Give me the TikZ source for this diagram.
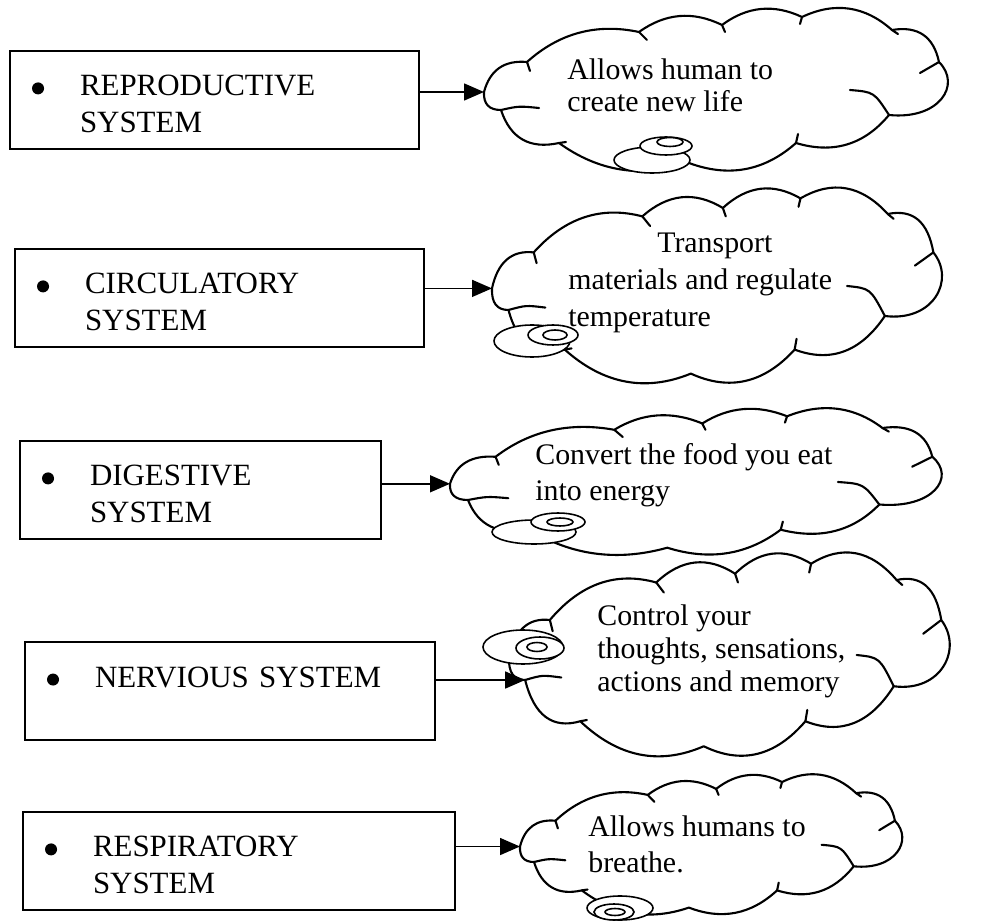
\documentclass[tikz,border=0pt]{standalone}
\usepackage{fontspec}
\setmainfont{Liberation Serif}
\usetikzlibrary{arrows.meta}

\newcommand{\sysitem}[2]{\makebox[0.96cm][l]{\raisebox{0.03cm}{\tikz\fill (0,0) circle (0.12cm);}}\rule{0pt}{0.58cm}#1\\\hspace*{0.96cm}#2}

\tikzset{
  sysbox/.style={draw, line width=1.2pt, inner xsep=0.44cm, inner ysep=0pt,
    minimum height=1.96cm, align=left, font=\fontsize{17.6}{21}\selectfont},
  says/.style={inner sep=0pt, anchor=north west, align=left},
  feeds/.style={line width=0.9pt, -{Triangle[length=0.4cm, width=0.34cm]}},
  bubble/.style={line width=1.2pt, line join=round, line cap=round},
  saucer/.style={line width=0.9pt, fill=white},
  pics/puff/.style={code={
    \draw[bubble, fill=white] (0,82)
      .. controls (5.9,60) and (20.3,50) .. (43,52)
      .. controls (75.2,23) and (112.6,13) .. (155,22)
      .. controls (181.3,3.1) and (208.9,0.7) .. (238,15)
      .. controls (263.1,-3.7) and (289.7,-6.3) .. (318,7)
      .. controls (350.9,-8.5) and (380.9,-4.1) .. (408,20)
      .. controls (433.9,15.7) and (449.5,26.3) .. (455,52)
      .. controls (478,75) and (455,110) .. (405,105)
      .. controls (380.2,134.8) and (349.2,144.2) .. (312,133)
      .. controls (280.3,161.1) and (244.7,167.7) .. (205,153)
      .. controls (158.3,168.4) and (114.9,161.8) .. (75,133)
      .. controls (45.8,139.4) and (26.4,128.4) .. (17,100)
      .. controls (5,100) and (-0.6,94) .. (0,82) -- cycle;
    % inner strokes of the puffs
    \draw[bubble] (43,52) -- (46,61);
    \draw[bubble] (155,22) -- (163,30);
    \draw[bubble] (238,15) -- (241,22);
    \draw[bubble] (318,7) -- (316,14);
    \draw[bubble] (408,20) -- (414,24);
    \draw[bubble] (455,52) -- (436,63);
    \draw[bubble] (366,80) .. controls (390,82) .. (405,105);
    \draw[bubble] (312,133) -- (314,124);
    \draw[bubble] (75,133) -- (82,132);
    \draw[bubble] (17,100) .. controls (35,96) .. (55,98);
    \coordinate (-w) at (0,82);
    \coordinate (-sw) at (17,100);
  }}
}

\begin{document}
\begin{tikzpicture}[x=0.02cm, y=-0.02cm]
    \useasboundingbox (0,0) rectangle (985,922);

    \pic (cl1) at (484,10) {puff};
    \pic[xscale=0.97, yscale=1.2] (cl2) at (492,190) {puff};
    \pic[xscale=1.06, yscale=0.9] (cl3) at (450,410) {puff};
    \pic[xscale=0.95, yscale=1.25] (cl4) at (509,555) {puff};
    \pic[xscale=0.824, yscale=0.86] (cl5) at (520,776) {puff};

    \draw[saucer] (652,160) ellipse [x radius=38, y radius=13];
    \draw[saucer] (666,146) ellipse [x radius=26, y radius=9];
    \draw[saucer] (670,142) ellipse [x radius=13, y radius=4.5];
    \draw[saucer] (532,341) ellipse [x radius=38, y radius=16];
    \draw[saucer] (553,335) ellipse [x radius=25, y radius=10];
    \draw[saucer] (555,335) ellipse [x radius=12, y radius=5];
    \draw[saucer] (534,532) ellipse [x radius=42, y radius=12];
    \draw[saucer] (558,522) ellipse [x radius=27, y radius=9];
    \draw[saucer] (560,522) ellipse [x radius=13, y radius=4];
    \draw[saucer] (523,647) ellipse [x radius=40, y radius=17];
    \draw[saucer] (540,648) ellipse [x radius=24, y radius=11];
    \draw[saucer] (537,647) ellipse [x radius=10, y radius=4.5];
    \draw[saucer] (620,908) ellipse [x radius=33, y radius=12];
    \draw[saucer] (614,912) ellipse [x radius=20, y radius=8];
    \draw[saucer] (615,912) ellipse [x radius=10, y radius=3.5];

    \node[says, font=\fontsize{17}{18.7}\selectfont] (say1) at (567,58) {Allows human to\\create new life};
    \node[says, font=\fontsize{17}{21}\selectfont] (say2) at (568,233) {\hspace*{1.78cm}Transport\\materials and regulate\\temperature};
    \node[says, font=\fontsize{17}{20.4}\selectfont] (say3) at (535,443) {Convert the food you eat\\into energy};
    \node[says, font=\fontsize{17}{19}\selectfont] (say4) at (597,604) {Control your\\thoughts, sensations,\\actions and memory};
    \node[says, font=\fontsize{17}{21}\selectfont] (say5) at (588,815) {Allows humans to\\breathe.};

    \node[sysbox, text width=7.30cm] (sys1) at (214.5,100) {\sysitem{REPRODUCTIVE}{SYSTEM}};
    \node[sysbox, text width=7.30cm] (sys2) at (219.5,298) {\sysitem{CIRCULATORY}{SYSTEM}};
    \node[sysbox, text width=6.34cm] (sys3) at (200.5,490) {\sysitem{DIGESTIVE}{SYSTEM}};
    \node[sysbox, text width=7.32cm] (sys4) at (230,691) {\sysitem{NERVIOUS SYSTEM}{}};
    \node[sysbox, text width=7.76cm] (sys5) at (239,861) {\sysitem{RESPIRATORY}{SYSTEM}};

    \draw[feeds] (sys1.east |- cl1-w) -- (cl1-w);
    \draw[feeds] (sys2.east |- cl2-w) -- (cl2-w);
    \draw[feeds] (sys3.east |- cl3-w) -- (cl3-w);
    \draw[feeds] (sys4.east |- cl4-sw) -- (cl4-sw);
    \draw[feeds] (sys5.east |- cl5-w) -- (cl5-w);
\end{tikzpicture}
\end{document}
